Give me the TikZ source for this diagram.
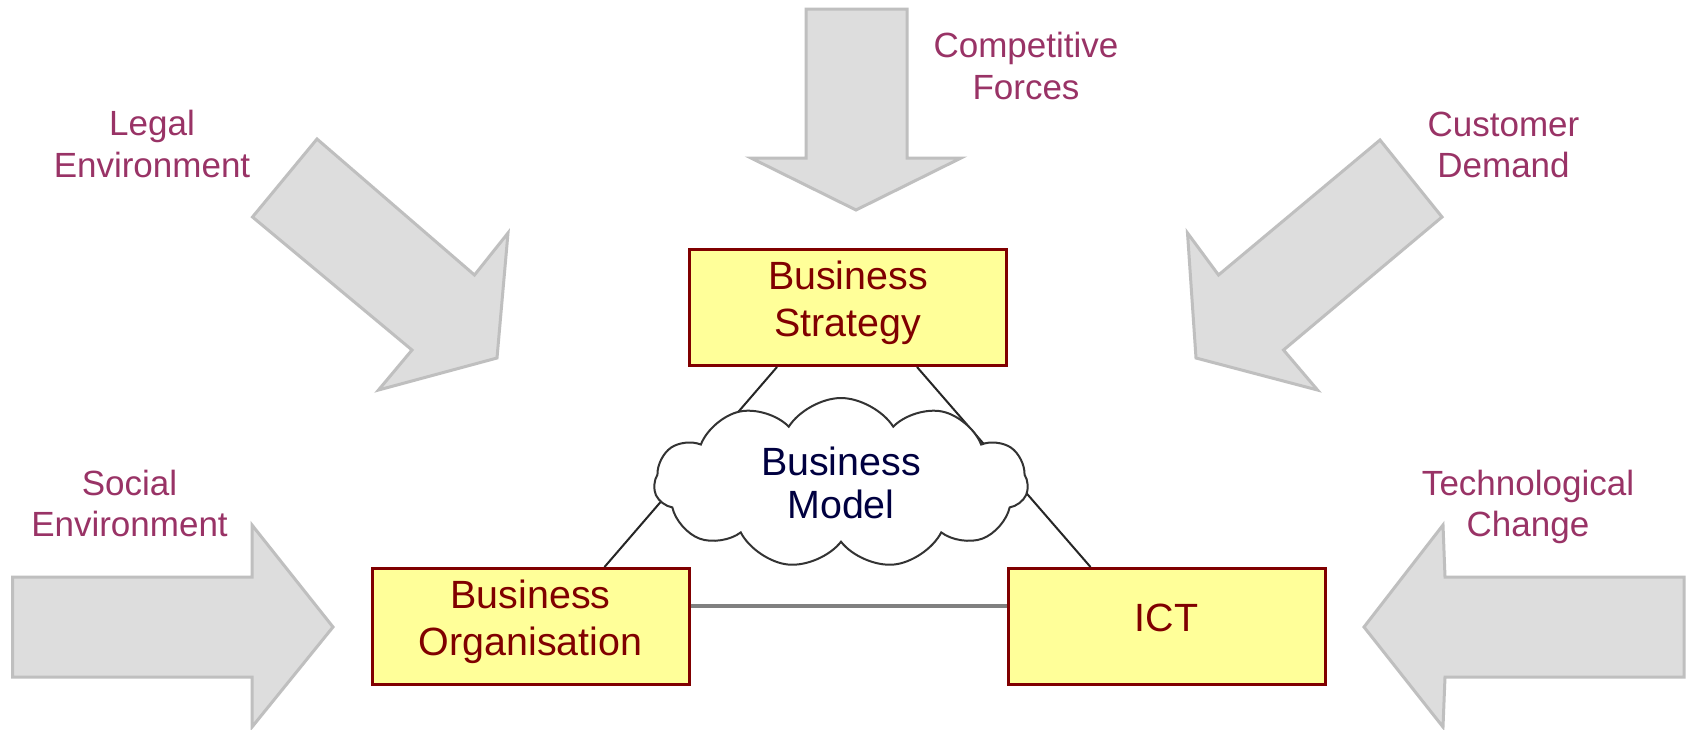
\documentclass[tikz,border=0pt]{standalone}
\usepackage{fontspec}
\setmainfont{Liberation Sans}
\usepackage{tikz}
\usetikzlibrary{shapes.symbols,positioning}
\definecolor{forcetext}{HTML}{993366}
\definecolor{boxred}{HTML}{800000}
\definecolor{boxfill}{HTML}{FFFF99}
\definecolor{arrowfill}{HTML}{DDDDDD}
\definecolor{arrowedge}{HTML}{BFBFBF}
\definecolor{modelblue}{HTML}{000040}
\begin{document}
\begin{tikzpicture}[x=0.5pt, y=-0.5pt,
  box/.style={draw=boxred, line width=1.5pt, fill=boxfill, text=boxred, align=center,
    minimum width=158.5pt, minimum height=58pt, text depth=8.9pt,
    font={\fontsize{19.7}{23.35}\selectfont}},
  force/.style={fill=arrowfill, draw=arrowedge, line width=1.5pt},
  lbl/.style={text=forcetext, align=center, inner sep=0pt, font={\fontsize{17.5}{20.6}\selectfont}},
  link/.style={draw=black!85, line width=1pt}]
\useasboundingbox[fill=white] (0,0) rectangle (1687,729);
\draw[force] (806,9) -- (907,9) -- (907,158) -- (961,158) -- (856,210) -- (751,158) -- (806,158) -- cycle;
\draw[force] (317,139) -- (474.5,275) -- (508,233) -- (497,358) -- (378.5,390) -- (412,350) -- (252.5,217) -- cycle;
\draw[force] (1380,140) -- (1442,217) -- (1283.5,350) -- (1317.5,390) -- (1196,358) -- (1187.5,233) -- (1218.5,275) -- cycle;
\draw[force] (12.5,577) -- (252,577) -- (252,525) -- (333,627) -- (252,727) -- (252,677) -- (12.5,677) -- cycle;
\draw[force] (1684,577) -- (1445,577) -- (1443,525) -- (1364,627) -- (1443,727) -- (1445,677) -- (1684,677) -- cycle;
\node[lbl] (compet) at (1026,66) {Competitive\\Forces};
\node[lbl] (legal) at (152,144) {Legal\\Environment};
\node[lbl] (custom) at (1503.5,145) {Customer\\Demand};
\node[lbl] (social) at (129.5,503.5) {Social\\Environment};
\node[lbl] (tech) at (1528,507) {Technological\\Change};
\node[box] (strat) at (848,307.5) {Business\\Strategy};
\node[box] (org) at (530.5,626.5) {Business\\Organisation};
\node[box, right of=org, node distance=318pt] (ict) {ICT};
\draw[link] ([xshift=-35.5pt]strat.south) -- ([xshift=37pt]org.north);
\draw[link] ([xshift=34.5pt]strat.south) -- ([xshift=-38pt]ict.north);
\draw[link, draw=black!50, line width=2pt] ([yshift=10.25pt]org.east) -- ([yshift=10.25pt]ict.west);
\node[cloud, cloud puffs=11, cloud puff arc=115, aspect=2.2, draw=black!80, line width=1pt, fill=white,
  minimum width=187pt, minimum height=85pt, text=modelblue, align=center,
  font={\fontsize{19.7}{21.6}\selectfont}] (model) at (841,483) {Business\\Model};
\end{tikzpicture}
\end{document}
